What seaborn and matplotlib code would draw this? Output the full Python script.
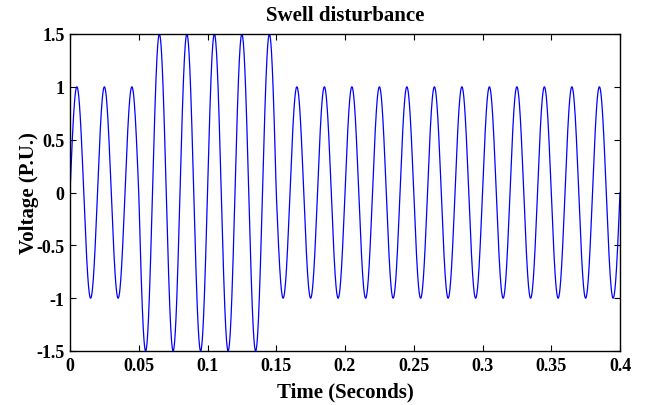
import matplotlib
matplotlib.use("Agg")
import matplotlib.pyplot as plt
import seaborn as sns
import numpy as np
import pandas as pd

# Señal: 50 Hz, amplitud por semiciclo (40 semiciclos en 0-0.4 s)
freq_hz = 50
t_end = 0.4
half_cycle_amp = [1.0] * 5 + [1.5] * 10 + [1.0] * 25

x_ticks = [0, 0.05, 0.1, 0.15, 0.2, 0.25, 0.3, 0.35, 0.4]
x_labels = ["0", "0.05", "0.1", "0.15", "0.2", "0.25", "0.3", "0.35", "0.4"]
y_ticks = [-1.5, -1, -0.5, 0, 0.5, 1, 1.5]
y_labels = ["-1.5", "-1", "-0.5", "0", "0.5", "1", "1.5"]

t = np.linspace(0, t_end, 8001)
idx = np.minimum((t * 2 * freq_hz).astype(int), len(half_cycle_amp) - 1)
amp = np.array(half_cycle_amp)[idx]
df = pd.DataFrame({"time": t, "voltage": amp * np.sin(2 * np.pi * freq_hz * t)})

sns.set_style("white")
plt.rcParams['font.family'] = ['Liberation Serif', 'DejaVu Serif']
plt.rcParams['font.weight'] = 'bold'
plt.rcParams['text.color'] = 'black'
plt.rcParams['axes.labelcolor'] = 'black'

fig = plt.figure(figsize=(6.45, 4.06), dpi=100)
ax = fig.add_axes([70 / 645, 1 - 352 / 406, 550 / 645, 317 / 406])
sns.lineplot(data=df, x="time", y="voltage", color="#0000ff", linewidth=0.9, ax=ax)

ax.set_xlim(0, 0.4)
ax.set_ylim(-1.5, 1.5)
ax.set_xticks(x_ticks)
ax.set_xticklabels(x_labels, fontsize=13, fontweight="bold")
ax.set_yticks(y_ticks)
ax.set_yticklabels(y_labels, fontsize=13, fontweight="bold")
ax.tick_params(direction="in", length=4, width=0.8, top=True, right=True,
               bottom=True, left=True, pad=4, colors="black")
for s in ax.spines.values():
    s.set_color("black")
    s.set_linewidth(1.0)

ax.set_title("Swell disturbance", fontsize=15, fontweight="bold", pad=10)
ax.set_xlabel("Time (Seconds)", fontsize=15, fontweight="bold", labelpad=6)
ax.set_ylabel("Voltage (P.U.)", fontsize=15, fontweight="bold", labelpad=-2)

plt.savefig("out.png", dpi=100)
